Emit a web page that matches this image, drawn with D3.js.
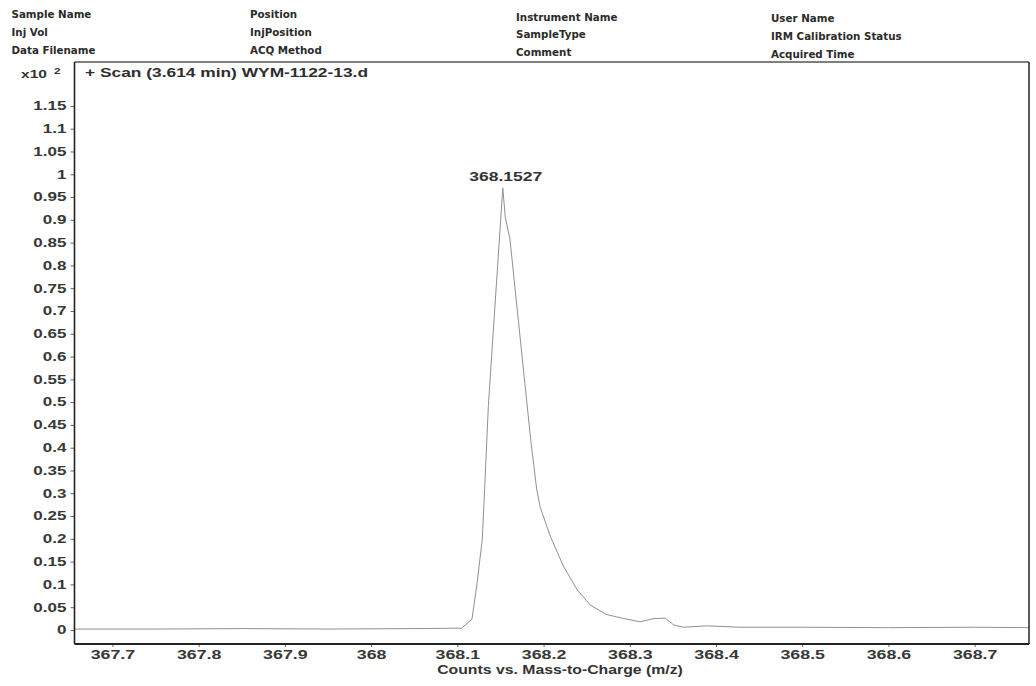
<!DOCTYPE html>
<html>
<head>
<meta charset="utf-8">
<script src="https://cdn.jsdelivr.net/npm/d3@7"></script>
<style>
  html, body { margin: 0; padding: 0; background: #ffffff; }
  svg { display: block; }
</style>
</head>
<body>
<svg id="chart" width="1036" height="686"></svg>
<script>
// ---- data (counts in units of x10^2) ----
const mzValues = [
  367.656, 367.75, 367.85, 367.95, 368.05, 368.105,
  368.117, 368.123, 368.129, 368.132, 368.136, 368.1527,
  368.1556, 368.161, 368.171, 368.179, 368.185, 368.192,
  368.196, 368.208, 368.223, 368.239, 368.254, 368.273,
  368.293, 368.312, 368.328, 368.341, 368.351, 368.362,
  368.389, 368.428, 368.5, 368.6, 368.7, 368.763
];
const countValues = [
  0.002, 0.002, 0.003, 0.002, 0.003, 0.004,
  0.024, 0.104, 0.200, 0.324, 0.493, 0.970,
  0.906, 0.858, 0.675, 0.529, 0.419, 0.309,
  0.270, 0.205, 0.140, 0.088, 0.055, 0.034,
  0.025, 0.018, 0.025, 0.026, 0.011, 0.006,
  0.009, 0.006, 0.006, 0.005, 0.006, 0.005
];
const peakMz = 368.1527;
const peakCount = 0.970;
const peakLabel = "368.1527";

const xTicks = [367.7, 367.8, 367.9, 368.0, 368.1, 368.2, 368.3, 368.4, 368.5, 368.6, 368.7];
const xTickLabels = ["367.7", "367.8", "367.9", "368", "368.1", "368.2", "368.3", "368.4", "368.5", "368.6", "368.7"];
const yTicks = [0, 0.05, 0.1, 0.15, 0.2, 0.25, 0.3, 0.35, 0.4, 0.45, 0.5, 0.55, 0.6, 0.65, 0.7, 0.75, 0.8, 0.85, 0.9, 0.95, 1, 1.05, 1.1, 1.15];
const yTickLabels = ["0", "0.05", "0.1", "0.15", "0.2", "0.25", "0.3", "0.35", "0.4", "0.45", "0.5", "0.55", "0.6", "0.65", "0.7", "0.75", "0.8", "0.85", "0.9", "0.95", "1", "1.05", "1.1", "1.15"];

const headerCols = [
  ["Sample Name", "Inj Vol", "Data Filename"],
  ["Position", "InjPosition", "ACQ Method"],
  ["Instrument Name", "SampleType", "Comment"],
  ["User Name", "IRM Calibration Status", "Acquired Time"]
];
const titleText = "+ Scan (3.614 min) WYM-1122-13.d";
const xAxisTitle = "Counts vs. Mass-to-Charge (m/z)";

// ---- layout ----
const L = 74.5, R = 1029, T = 62, B = 644;
const svg = d3.select("#chart");
const x = d3.scaleLinear().domain([367.656, 368.763]).range([L, R]);
const y = d3.scaleLinear().domain([-0.033, 1.242]).range([B + 1, T + 2]);

function stretch(sel, k) {
  sel.each(function () {
    const t = d3.select(this);
    const tx = +t.attr("x") || 0, ty = +t.attr("y") || 0;
    t.attr("x", 0).attr("y", 0).attr("transform", `translate(${tx},${ty}) scale(${k},1)`);
  });
}

// header block
const colX = [11.5, 250, 516, 771];
const colY0 = [18, 18, 20.5, 22];
headerCols.forEach((col, ci) => {
  col.forEach((txt, ri) => {
    svg.append("text")
      .attr("x", colX[ci]).attr("y", colY0[ci] + ri * 17.8)
      .attr("font-family", "DejaVu Sans, Verdana, sans-serif")
      .attr("font-weight", "bold").attr("font-size", 10.3)
      .attr("fill", "#2b2b2b")
      .text(txt);
  });
});

// curve
const line = d3.line().x((d, i) => x(mzValues[i])).y(d => y(d));
svg.append("path")
  .datum(countValues)
  .attr("d", line)
  .attr("fill", "none")
  .attr("stroke", "#909090")
  .attr("stroke-width", 1);

// y axis
const yAxis = d3.axisLeft(y).tickValues(yTicks)
  .tickFormat((d, i) => yTickLabels[i]).tickSize(4).tickPadding(4);
const gy = svg.append("g").attr("transform", `translate(${L},0)`).call(yAxis);
gy.select(".domain").remove();
gy.selectAll(".tick line").attr("stroke", "#666");
gy.selectAll(".tick text")
  .attr("font-family", "Liberation Sans, Arial, sans-serif")
  .attr("font-weight", "bold").attr("font-size", 12).attr("fill", "#383838");
stretch(gy.selectAll(".tick text"), 1.42);

// x axis
const xAxis = d3.axisBottom(x).tickValues(xTicks)
  .tickFormat((d, i) => xTickLabels[i]).tickSize(3).tickPadding(2);
const gx = svg.append("g").attr("transform", `translate(0,${B})`).call(xAxis);
gx.select(".domain").remove();
gx.selectAll(".tick line").attr("stroke", "#666");
gx.selectAll(".tick text")
  .attr("font-family", "Liberation Sans, Arial, sans-serif")
  .attr("font-weight", "bold").attr("font-size", 13.5).attr("fill", "#383838");
stretch(gx.selectAll(".tick text"), 1.32);

// frame
svg.append("line").attr("x1", L).attr("x2", R).attr("y1", T).attr("y2", T)
  .attr("stroke", "#555").attr("stroke-width", 1.4);
svg.append("line").attr("x1", R).attr("x2", R).attr("y1", T).attr("y2", B)
  .attr("stroke", "#333").attr("stroke-width", 1.6);
svg.append("line").attr("x1", L).attr("x2", L).attr("y1", T).attr("y2", B)
  .attr("stroke", "#222").attr("stroke-width", 1.6);
svg.append("line").attr("x1", L).attr("x2", R).attr("y1", B).attr("y2", B)
  .attr("stroke", "#222").attr("stroke-width", 2);

// x10^2 label
const mult = svg.append("text")
  .attr("x", 21).attr("y", 77.5)
  .attr("font-family", "Liberation Sans, Arial, sans-serif")
  .attr("font-weight", "bold").attr("font-size", 11.5).attr("fill", "#333")
  .text("x10");
stretch(mult, 1.35);
const sup = svg.append("text")
  .attr("x", 54).attr("y", 74)
  .attr("font-family", "Liberation Sans, Arial, sans-serif")
  .attr("font-weight", "bold").attr("font-size", 9).attr("fill", "#333")
  .text("2");
stretch(sup, 1.3);

// scan title
svg.append("text")
  .attr("x", 85).attr("y", 76.5)
  .attr("font-family", "Liberation Sans, Arial, sans-serif")
  .attr("font-weight", "bold").attr("font-size", 12.5).attr("fill", "#2e2e2e")
  .attr("textLength", 283).attr("lengthAdjust", "spacingAndGlyphs")
  .text(titleText);

// peak annotation
const pk = svg.append("text")
  .attr("x", x(peakMz) + 3).attr("y", y(peakCount) - 7)
  .attr("text-anchor", "middle")
  .attr("font-family", "Liberation Sans, Arial, sans-serif")
  .attr("font-weight", "bold").attr("font-size", 13.5).attr("fill", "#333")
  .text(peakLabel);
stretch(pk, 1.3);

// x axis title
const xt = svg.append("text")
  .attr("x", 560).attr("y", 674)
  .attr("text-anchor", "middle")
  .attr("font-family", "Liberation Sans, Arial, sans-serif")
  .attr("font-weight", "bold").attr("font-size", 13.5).attr("fill", "#333")
  .text(xAxisTitle);
stretch(xt, 1.17);
</script>
</body>
</html>
